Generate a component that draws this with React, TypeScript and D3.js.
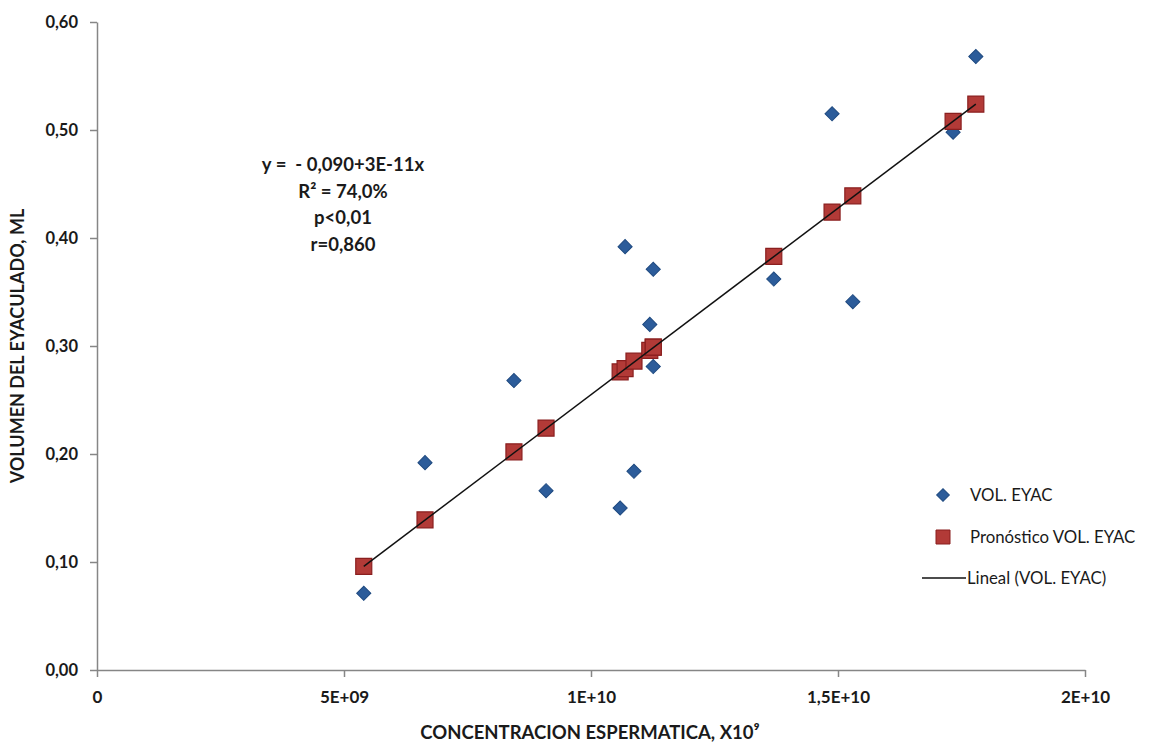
import React, { useRef, useEffect } from 'react';
import * as d3 from 'd3';

// concentración espermática (x) y volumen del eyaculado (ml)
const concentracion = [5.40e9, 6.64e9, 8.44e9, 9.09e9, 10.59e9, 10.69e9, 10.87e9, 11.19e9, 11.26e9, 11.26e9, 13.70e9, 14.88e9, 15.30e9, 17.33e9, 17.79e9];
const volEyac = [0.071, 0.192, 0.268, 0.166, 0.150, 0.392, 0.184, 0.320, 0.371, 0.281, 0.362, 0.515, 0.341, 0.498, 0.568];
const pronostico = [0.096, 0.139, 0.202, 0.224, 0.276, 0.279, 0.286, 0.296, 0.299, 0.299, 0.383, 0.424, 0.439, 0.508, 0.524];

const xTicks = [0, 5e9, 1e10, 1.5e10, 2e10];
const xTickLabels = ['0', '5E+09', '1E+10', '1,5E+10', '2E+10'];
const yTicks = [0, 0.1, 0.2, 0.3, 0.4, 0.5, 0.6];
const yTickLabels = ['0,00', '0,10', '0,20', '0,30', '0,40', '0,50', '0,60'];

const ecuacion = ['y =  - 0,090+3E-11x', 'R² = 74,0%', 'p<0,01', 'r=0,860'];
const leyenda = ['VOL. EYAC', 'Pronóstico VOL. EYAC', 'Lineal (VOL. EYAC)'];

const App = () => {
    const svgRef = useRef<SVGSVGElement>(null);

    useEffect(() => {
        const width = 1164;
        const height = 742;
        const font = 'Lato, "Open Sans", sans-serif';
        const axisColor = '#868686';

        const svg = d3.select(svgRef.current)
            .attr('width', width)
            .attr('height', height)
            .style('font-family', font);

        svg.selectAll('*').remove();

        const x = d3.scaleLinear().domain([0, 2e10]).range([97, 1085]);
        const y = d3.scaleLinear().domain([0, 0.6]).range([670, 22]);

        // ejes
        const gy = svg.append('g')
            .attr('transform', `translate(${x(0)},0)`)
            .call(d3.axisLeft(y).tickValues(yTicks).tickFormat((d, i) => yTickLabels[i]).tickSize(7).tickSizeOuter(0).tickPadding(12));
        gy.select('.domain').attr('stroke', axisColor).attr('stroke-width', 1.5);
        gy.selectAll('line').attr('stroke', axisColor).attr('stroke-width', 1.5);
        gy.selectAll('text').attr('fill', '#1a1a1a').attr('font-size', 16.5).attr('font-weight', 'bold').attr('font-family', font);

        const gx = svg.append('g')
            .attr('transform', `translate(0,${y(0)})`)
            .call(d3.axisBottom(x).tickValues(xTicks).tickFormat((d, i) => xTickLabels[i]).tickSize(7).tickSizeOuter(0).tickPadding(14));
        gx.select('.domain').attr('stroke', axisColor).attr('stroke-width', 1.5);
        gx.selectAll('line').attr('stroke', axisColor).attr('stroke-width', 1.5);
        gx.selectAll('text').attr('fill', '#1a1a1a').attr('font-size', 17).attr('font-weight', 'bold').attr('font-family', font);

        // títulos de ejes
        svg.append('text')
            .attr('x', 590).attr('y', 739)
            .attr('text-anchor', 'middle')
            .attr('font-size', 18.5).attr('font-weight', 'bold').attr('fill', '#1a1a1a')
            .text('CONCENTRACION ESPERMATICA, X10⁹');

        svg.append('text')
            .attr('transform', `translate(24,${y(0.3)}) rotate(-90)`)
            .attr('text-anchor', 'middle')
            .attr('font-size', 18).attr('font-weight', 'bold').attr('fill', '#1a1a1a')
            .text('VOLUMEN DEL EYACULADO, ML');

        const diamond = d3.symbol().type(d3.symbolSquare).size(100)();
        const square = d3.symbol().type(d3.symbolSquare).size(256)();

        // puntos observados
        svg.append('g').selectAll('path')
            .data(concentracion.map((c, i) => ({ c, v: volEyac[i] })))
            .enter().append('path')
            .attr('d', diamond)
            .attr('transform', d => `translate(${x(d.c)},${y(d.v)}) rotate(45)`)
            .attr('fill', '#2c5c9a')
            .attr('stroke', '#1f4a80')
            .attr('stroke-width', 1);

        // pronóstico
        svg.append('g').selectAll('path')
            .data(concentracion.map((c, i) => ({ c, v: pronostico[i] })))
            .enter().append('path')
            .attr('d', square)
            .attr('transform', d => `translate(${x(d.c)},${y(d.v)})`)
            .attr('fill', '#b23a37')
            .attr('stroke', '#8a1f1f')
            .attr('stroke-width', 1.2);

        // línea de tendencia
        const trend = [0, concentracion.length - 1].map(i => ({ c: concentracion[i], v: pronostico[i] }));
        svg.append('path')
            .datum(trend)
            .attr('fill', 'none')
            .attr('stroke', '#111')
            .attr('stroke-width', 1.5)
            .attr('d', d3.line<{ c: number; v: number }>().x(d => x(d.c)).y(d => y(d.v)));

        // ecuación
        svg.append('g').selectAll('text')
            .data(ecuacion)
            .enter().append('text')
            .attr('x', 343)
            .attr('y', (d, i) => 171 + i * 26.5)
            .attr('text-anchor', 'middle')
            .style('white-space', 'pre')
            .attr('font-size', 18.5).attr('font-weight', 'bold').attr('fill', '#1a1a1a')
            .text(d => d);

        // leyenda
        const lg = svg.append('g');
        lg.append('path').attr('d', d3.symbol().type(d3.symbolSquare).size(80)())
            .attr('transform', 'translate(943,495) rotate(45)')
            .attr('fill', '#2c5c9a').attr('stroke', '#1f4a80');
        lg.append('path').attr('d', d3.symbol().type(d3.symbolSquare).size(196)())
            .attr('transform', 'translate(943,537)')
            .attr('fill', '#b23a37').attr('stroke', '#8a1f1f');
        lg.append('line').attr('x1', 922).attr('x2', 966).attr('y1', 578).attr('y2', 578)
            .attr('stroke', '#111').attr('stroke-width', 1.5);
        lg.selectAll('text')
            .data(leyenda)
            .enter().append('text')
            .attr('x', (d, i) => (i === 2 ? 967 : 970))
            .attr('y', (d, i) => 501 + i * 41.5)
            .attr('font-size', 16.8).attr('fill', '#1a1a1a')
            .text(d => d);
    }, []);

    return <svg ref={svgRef} style={{ position: 'absolute', left: 0, top: 0, background: '#fff' }}></svg>;
};

export default App;
